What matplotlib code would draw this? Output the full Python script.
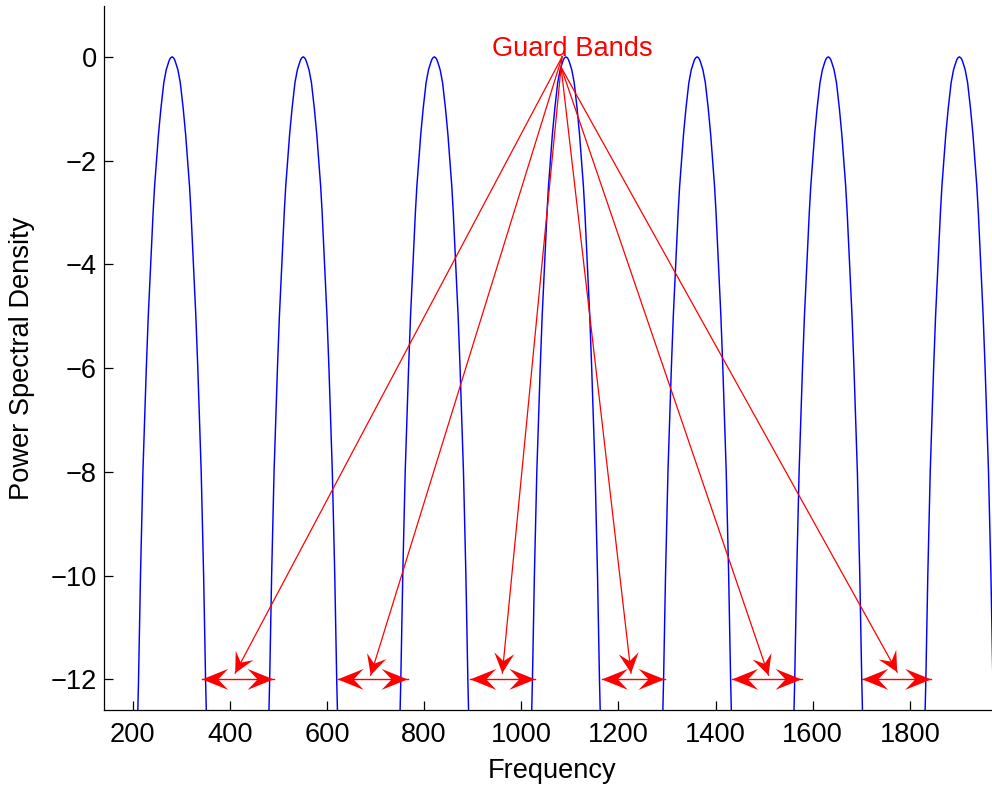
import numpy as np
import matplotlib
matplotlib.use("Agg")
import matplotlib.pyplot as plt
from matplotlib.patches import Polygon

plt.rcParams['font.family'] = ['Liberation Sans', 'DejaVu Sans']

# Sub-carrier centre frequencies
centers = [281, 551, 821, 1092, 1362, 1632, 1902]

# One main lobe of the PSD: offset from the carrier and level
lobe_offset = [0, 3, 5, 7, 12, 17, 23, 28, 32, 36, 39, 44, 49, 53, 56.5,
               60, 62.5, 65, 67, 69, 70.5, 73]
lobe_db = [0, -0.02, -0.05, -0.1, -0.25, -0.5, -1, -1.5, -2, -2.5, -3, -4,
           -5, -6, -7, -8, -9, -10, -11, -12, -12.6, -14]

# Guard band double arrows (left end, right end) at one level
band_left = [343, 622, 895, 1166, 1434, 1702]
band_right = [490, 766, 1029, 1295, 1577, 1844]
band_level = -12.0

# Pointer arrows from the label to each guard band
pointer_tip_x = [411, 690, 961, 1226, 1509, 1774]
pointer_tip_y = [-11.88, -11.92, -11.88, -11.88, -11.92, -11.86]
pointer_tail_x = [1084, 1084, 1084, 1082, 1082, 1082]
pointer_tail_y = [0.0, 0.0, 0.0, -0.2, -0.2, -0.2]

label_text = "Guard Bands"
label_x, label_y = 1105, 0.02

xticks = [200, 400, 600, 800, 1000, 1200, 1400, 1600, 1800]
yticks = [0, -2, -4, -6, -8, -10, -12]

FS = 19.6
W, H = 992, 785
fig = plt.figure(figsize=(W / 100, H / 100), dpi=100)
ax = fig.add_axes([104.3 / W, 1 - 710 / H, (999 - 104.3) / W, (710 - 6) / H])

off = np.array(lobe_offset)
db = np.array(lobe_db)
prof_x = np.concatenate([-off[::-1], off[1:]])
prof_y = np.concatenate([db[::-1], db[1:]])
for c in centers:
    ax.plot(c + prof_x, prof_y, color=(0, 0, 1), lw=1.05)

ax.set_xlim(141.5, 1983.6)
ax.set_ylim(-12.59, 0.98)
ax.set_xticks(xticks)
ax.set_yticks(yticks)
for s in ('top', 'right'):
    ax.spines[s].set_visible(False)
for s in ('left', 'bottom'):
    ax.spines[s].set_linewidth(0.9)
ax.tick_params(direction='in', length=6.5, width=0.9, labelsize=FS)
ax.tick_params(axis='x', pad=8.5)
ax.tick_params(axis='y', pad=5.5)
ax.set_xlabel("Frequency", fontsize=FS, labelpad=7)
ax.set_ylabel("Power Spectral Density", fontsize=FS, labelpad=11)

ax.text(label_x, label_y, label_text, color='red', fontsize=FS,
        ha='center', va='baseline')


def head(tip, tail, length, width, notch):
    p_tip = ax.transData.transform(tip)
    p_tail = ax.transData.transform(tail)
    d = p_tip - p_tail
    d = d / np.hypot(*d)
    n = np.array([-d[1], d[0]])
    pts = [p_tip,
           p_tip - length * d + width / 2 * n,
           p_tip - notch * d,
           p_tip - length * d - width / 2 * n]
    ax.add_patch(Polygon(ax.transData.inverted().transform(pts), closed=True,
                         facecolor='red', edgecolor='none', clip_on=False,
                         zorder=4))


for x0, x1 in zip(band_left, band_right):
    ax.plot([x0, x1], [band_level, band_level], color='red', lw=1.0, zorder=3)
    head((x0, band_level), (x1, band_level), 26, 21, 16)
    head((x1, band_level), (x0, band_level), 26, 21, 16)

for tx, ty, sx, sy in zip(pointer_tip_x, pointer_tip_y, pointer_tail_x, pointer_tail_y):
    ax.plot([sx, tx], [sy, ty], color='red', lw=0.9, zorder=3)
    head((tx, ty), (sx, sy), 20, 20, 12)

fig.savefig("out.png", dpi=100)
